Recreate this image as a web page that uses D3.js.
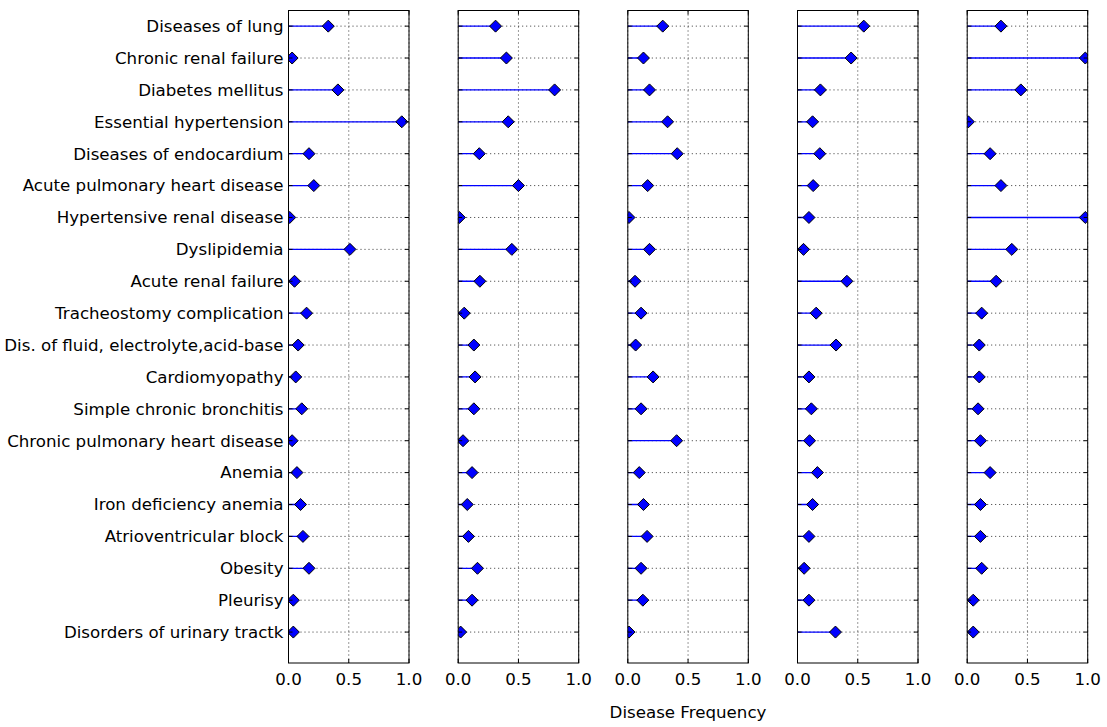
<!DOCTYPE html>
<html>
<head>
<meta charset="utf-8">
<script src="https://cdn.jsdelivr.net/npm/d3@7"></script>
<style>
  body { margin: 0; background: #fff; }
  svg { font-family: "DejaVu Sans", sans-serif; }
</style>
</head>
<body>
<svg id="chart" width="1107" height="727"></svg>
<script>
const categories = [
  "Diseases of lung",
  "Chronic renal failure",
  "Diabetes mellitus",
  "Essential hypertension",
  "Diseases of endocardium",
  "Acute pulmonary heart disease",
  "Hypertensive renal disease",
  "Dyslipidemia",
  "Acute renal failure",
  "Tracheostomy complication",
  "Dis. of fluid, electrolyte,acid-base",
  "Cardiomyopathy",
  "Simple chronic bronchitis",
  "Chronic pulmonary heart disease",
  "Anemia",
  "Iron deficiency anemia",
  "Atrioventricular block",
  "Obesity",
  "Pleurisy",
  "Disorders of urinary tractk"
];

const series1 = [0.33, 0.03, 0.41, 0.94, 0.17, 0.21, 0.01, 0.51, 0.05, 0.15, 0.08, 0.06, 0.11, 0.03, 0.07, 0.10, 0.12, 0.17, 0.04, 0.04];
const series2 = [0.31, 0.40, 0.80, 0.415, 0.175, 0.50, 0.01, 0.445, 0.18, 0.05, 0.13, 0.14, 0.13, 0.04, 0.115, 0.075, 0.085, 0.16, 0.115, 0.02];
const series3 = [0.29, 0.13, 0.18, 0.33, 0.41, 0.165, 0.01, 0.18, 0.06, 0.11, 0.065, 0.21, 0.11, 0.405, 0.095, 0.13, 0.16, 0.11, 0.125, 0.01];
const series4 = [0.55, 0.445, 0.19, 0.125, 0.185, 0.13, 0.095, 0.05, 0.41, 0.155, 0.32, 0.095, 0.115, 0.10, 0.165, 0.125, 0.095, 0.055, 0.095, 0.315];
const series5 = [0.28, 0.98, 0.445, 0.01, 0.19, 0.28, 0.98, 0.37, 0.24, 0.12, 0.10, 0.10, 0.09, 0.11, 0.19, 0.11, 0.11, 0.12, 0.05, 0.05];
const allSeries = [series1, series2, series3, series4, series5];

const xTicks = [0.0, 0.5, 1.0];
const xLabel = "Disease Frequency";

const svg = d3.select("#chart");
const panelLefts = [288.5, 458.2, 627.8, 797.5, 967.2];
const panelW = 120.5;
const plotTop = 10.5, plotBottom = 663;
const fs = 16.67;

const y = d3.scaleLinear().domain([-0.49, categories.length - 1 + 0.97]).range([plotTop, plotBottom]);

allSeries.forEach((vals, p) => {
  const x = d3.scaleLinear().domain([0, 1]).range([panelLefts[p], panelLefts[p] + panelW]);
  const g = svg.append("g");
  const clipId = "clip" + p;
  svg.append("defs").append("clipPath").attr("id", clipId)
    .append("rect").attr("x", x(0)).attr("y", plotTop).attr("width", panelW).attr("height", plotBottom - plotTop);

  const grid = g.append("g");
  grid.selectAll("line.h").data(categories).enter().append("line")
    .attr("x1", x(0)).attr("x2", x(1))
    .attr("y1", (d, i) => y(i)).attr("y2", (d, i) => y(i))
    .attr("stroke", "#000").attr("stroke-width", 0.8).attr("stroke-dasharray", "1,3");
  grid.selectAll("line.v").data(xTicks).enter().append("line")
    .attr("x1", d => x(d)).attr("x2", d => x(d))
    .attr("y1", plotTop).attr("y2", plotBottom)
    .attr("stroke", "#000").attr("stroke-width", 0.8).attr("stroke-dasharray", "1,3");

  const marks = g.append("g").attr("clip-path", `url(#${clipId})`);
  marks.selectAll("line.stem").data(vals).enter().append("line")
    .attr("x1", x(0)).attr("x2", d => x(d))
    .attr("y1", (d, i) => y(i)).attr("y2", (d, i) => y(i))
    .attr("stroke", "#0000ff").attr("stroke-width", 1.3);
  const r = 6;
  marks.selectAll("path.dm").data(vals).enter().append("path")
    .attr("d", (d, i) => {
      const cx = x(d), cy = y(i);
      return `M${cx},${cy - r}L${cx + r},${cy}L${cx},${cy + r}L${cx - r},${cy}Z`;
    })
    .attr("fill", "#0000ff").attr("stroke", "#000").attr("stroke-width", 1);

  const tk = g.append("g").attr("stroke", "#000").attr("stroke-width", 1);
  categories.forEach((c, i) => {
    tk.append("line").attr("x1", x(0)).attr("x2", x(0) + 4).attr("y1", y(i)).attr("y2", y(i));
    tk.append("line").attr("x1", x(1)).attr("x2", x(1) - 4).attr("y1", y(i)).attr("y2", y(i));
  });
  xTicks.forEach(t => {
    tk.append("line").attr("x1", x(t)).attr("x2", x(t)).attr("y1", plotBottom).attr("y2", plotBottom - 4);
    tk.append("line").attr("x1", x(t)).attr("x2", x(t)).attr("y1", plotTop).attr("y2", plotTop + 4);
  });

  g.append("rect").attr("x", x(0)).attr("y", plotTop).attr("width", panelW).attr("height", plotBottom - plotTop)
    .attr("fill", "none").attr("stroke", "#000").attr("stroke-width", 1);

  g.selectAll("text.xt").data(xTicks).enter().append("text")
    .attr("x", d => x(d)).attr("y", plotBottom + 22)
    .attr("text-anchor", "middle").attr("font-size", fs)
    .text(d => d.toFixed(1));

  if (p === 0) {
    g.selectAll("text.yl").data(categories).enter().append("text")
      .attr("x", x(0) - 5).attr("y", (d, i) => y(i))
      .attr("dy", "0.35em")
      .attr("text-anchor", "end").attr("font-size", fs)
      .text(d => d);
  }
});

svg.append("text").attr("x", 688).attr("y", 718)
  .attr("text-anchor", "middle").attr("font-size", fs).text(xLabel);
</script>
</body>
</html>
